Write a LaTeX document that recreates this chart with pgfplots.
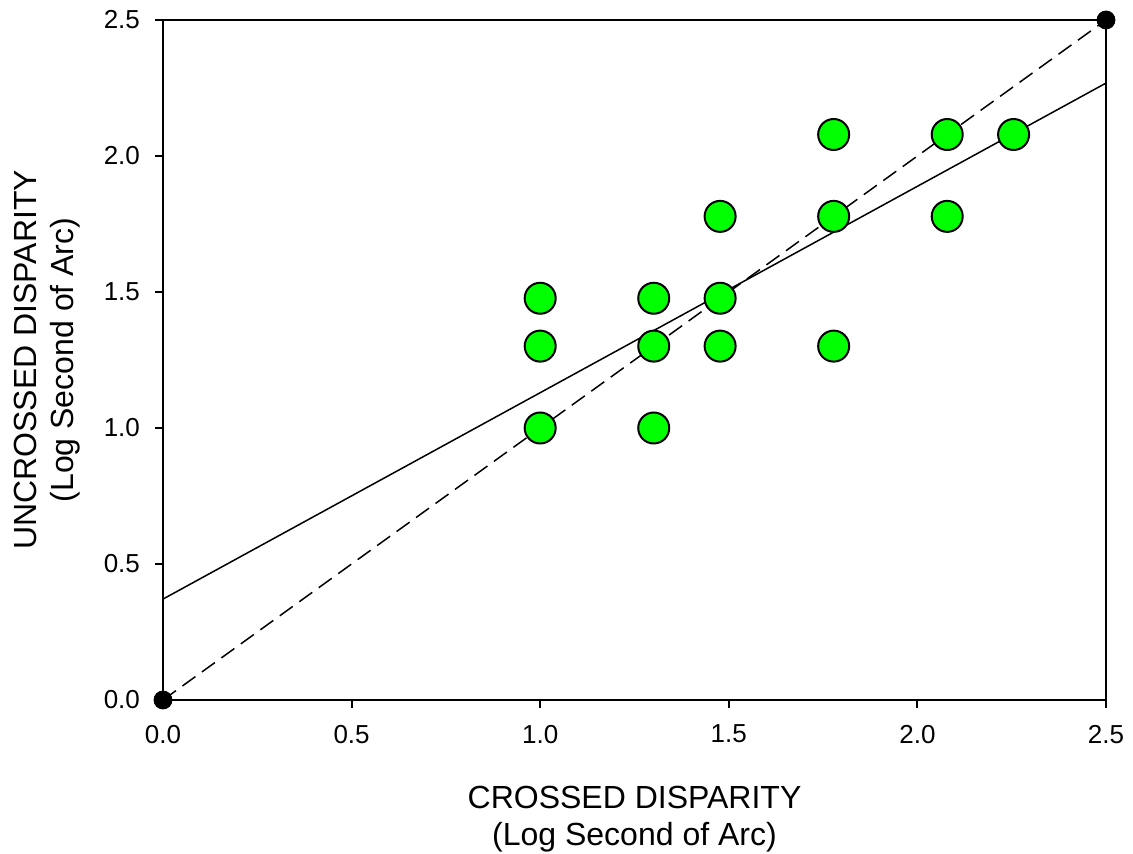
\documentclass[border=0pt]{standalone}
\usepackage{fontspec}
\setmainfont{Liberation Sans}
\usepackage{pgfplots}
\pgfplotsset{compat=1.18}
\definecolor{dotgreen}{RGB}{0,255,0}
\begin{document}
\begin{tikzpicture}
\useasboundingbox (-81.5pt,-77pt) rectangle (485pt,350pt);
\begin{axis}[
  at={(0,0)}, anchor=south west,
  scale only axis, width=471.5pt, height=340pt,
  xmin=0, xmax=2.5, ymin=0, ymax=2.5,
  xtick={0,0.5,...,2.5}, ytick={0,0.5,...,2.5},
  tick pos=left, tick align=outside,
  major tick length=4pt,
  axis line style={line width=1pt},
  every tick/.style={line width=1pt, black},
  clip=false,
  /pgf/number format/assume math mode=true,
  /pgf/number format/fixed, /pgf/number format/precision=1,
  /pgf/number format/fixed zerofill,
  tick label style={font=\fontsize{13}{15}\selectfont},
  xticklabel style={yshift=-5pt},
  yticklabel style={xshift=-4pt},
  xlabel={CROSSED DISPARITY\\(Log Second of Arc)},
  ylabel={UNCROSSED DISPARITY\\(Log Second of Arc)},
  xlabel style={at={(axis description cs:0.5,0)}, anchor=center, yshift=-59.5pt, align=center, font=\fontsize{16}{18.5}\selectfont},
  ylabel style={at={(axis description cs:0,0.5)}, anchor=center, yshift=58pt, align=center, font=\fontsize{16}{18.5}\selectfont},
]
\addplot[only marks, mark=*, mark size=7.75pt, mark options={fill=dotgreen, draw=black, line width=1pt}] coordinates {
(1.0,1.477) (1.0,1.301) (1.0,1.0)
(1.301,1.477) (1.301,1.301) (1.301,1.0)
(1.477,1.778) (1.477,1.477) (1.477,1.301)
(1.778,2.079) (1.778,1.778) (1.778,1.301)
(2.079,2.079) (2.079,1.778)
(2.255,2.079)
};
\addplot[black, line width=0.75pt, dash pattern=on 8pt off 4pt] coordinates {(0,0) (2.5,2.5)};
\addplot[black, line width=0.75pt] coordinates {(0,0.371) (2.5,2.268)};
\addplot[only marks, mark=*, mark size=4.5pt, mark options={fill=black, draw=black}] coordinates {(0,0) (2.5,2.5)};
\end{axis}
\end{tikzpicture}
\end{document}
